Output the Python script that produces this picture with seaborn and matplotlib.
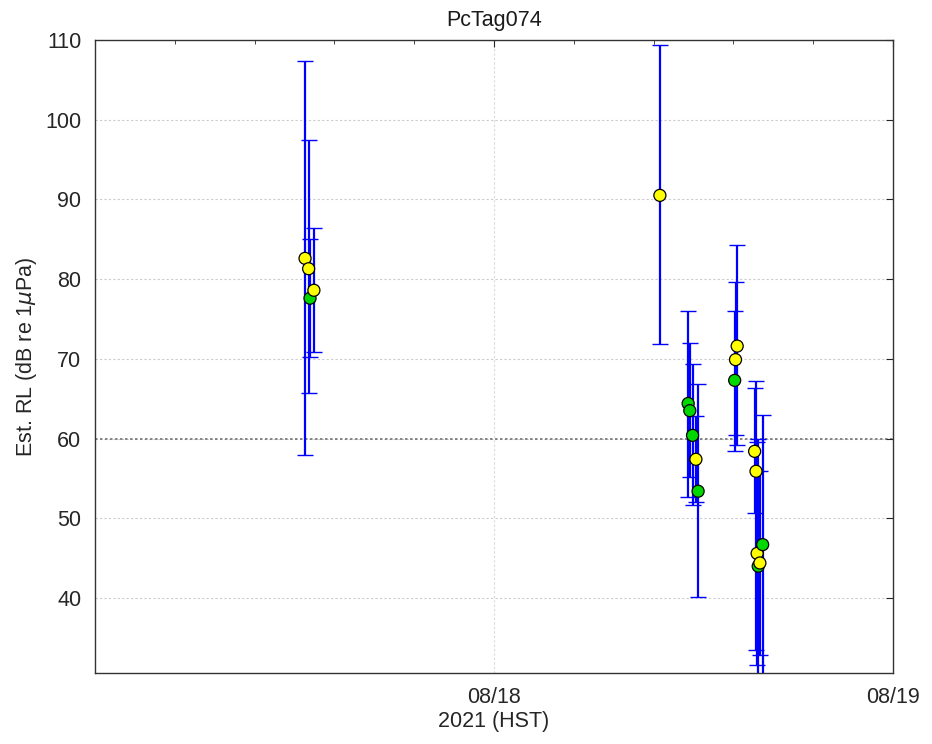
import numpy as np
import pandas as pd
import matplotlib
matplotlib.use('Agg')
import matplotlib.pyplot as plt
import matplotlib.dates as mdates
from matplotlib.ticker import MultipleLocator
import seaborn as sns

# detection times (HST), estimated RL and its error range
times = ['2021-08-17 12:38', '2021-08-17 12:51', '2021-08-17 12:56', '2021-08-17 13:10',
         '2021-08-18 09:59',
         '2021-08-18 11:41', '2021-08-18 11:47', '2021-08-18 11:57', '2021-08-18 12:09', '2021-08-18 12:17',
         '2021-08-18 14:29', '2021-08-18 14:32', '2021-08-18 14:38',
         '2021-08-18 15:41', '2021-08-18 15:46', '2021-08-18 15:50', '2021-08-18 15:54',
         '2021-08-18 16:00', '2021-08-18 16:10']
rl = [82.6, 81.3, 77.6, 78.6,
      90.5,
      64.4, 63.5, 60.4, 57.4, 53.4,
      67.3, 69.9, 71.6,
      58.4, 55.9, 45.6, 44.0, 44.4, 46.7]
rl_lo = [57.9, 65.7, 70.2, 70.8,
         71.8,
         52.7, 55.2, 51.7, 52.1, 40.1,
         58.5, 60.4, 59.2,
         50.7, 33.5, 31.6, 27.0, 32.9, 28.0]
rl_hi = [107.4, 97.4, 85.0, 86.4,
         109.4,
         76.0, 72.0, 69.3, 62.8, 66.8,
         76.0, 79.6, 84.3,
         66.3, 67.2, 59.6, 60.0, 55.9, 62.9]
kind = ['yellow', 'yellow', 'green', 'yellow',
        'yellow',
        'green', 'green', 'green', 'yellow', 'green',
        'green', 'yellow', 'yellow',
        'yellow', 'yellow', 'yellow', 'green', 'yellow', 'green']

df = pd.DataFrame({'time': pd.to_datetime(times), 'rl': rl,
                   'lo': rl_lo, 'hi': rl_hi, 'kind': kind})

sns.set_style('white')
plt.rcParams['font.family'] = ['Liberation Sans', 'DejaVu Sans']
plt.rcParams['mathtext.fontset'] = 'dejavusans'

fig = plt.figure(figsize=(9.32, 7.44), dpi=100)
ax = fig.add_axes([0.102, 0.0954, 0.856, 0.851])

# grid first so it stays behind
for yv in range(40, 110, 10):
    ax.axhline(yv, color='0.8', ls=(0, (2, 2)), lw=0.8, zorder=0)
ax.axhline(60, color='0.45', ls=(0, (1.5, 1.5)), lw=1.2, zorder=0)
ax.axvline(pd.Timestamp('2021-08-18'), color='0.85', ls=(0, (2, 2)), lw=0.8, zorder=0)

ax.errorbar(df['time'], df['rl'],
            yerr=[df['rl'] - df['lo'], df['hi'] - df['rl']],
            fmt='none', ecolor='#0000ff', elinewidth=1.6, capsize=6, capthick=1.0, zorder=2)

sns.scatterplot(data=df, x='time', y='rl', hue='kind',
                palette={'yellow': '#ffff00', 'green': '#00d800'},
                s=75, edgecolor='black', linewidth=0.9, legend=False, ax=ax, zorder=3)

ax.set_xlim(pd.Timestamp('2021-08-17 00:00'), pd.Timestamp('2021-08-19 00:00'))
ax.set_ylim(30.6, 110)
ax.set_yticks(range(40, 111, 10))
ax.set_xticks([pd.Timestamp('2021-08-18'), pd.Timestamp('2021-08-19')])
ax.xaxis.set_major_formatter(mdates.DateFormatter('%m/%d'))
ax.xaxis.set_minor_locator(MultipleLocator(0.2))

ax.tick_params(axis='both', which='both', direction='in', top=True, right=True,
               labelsize=15.5, colors='0.15', length=5)
ax.tick_params(axis='y', pad=10)
ax.tick_params(axis='x', pad=10)
ax.tick_params(which='minor', length=3)
for s in ax.spines.values():
    s.set_color('0.2')
    s.set_linewidth(1.0)

ax.set_xlabel('2021 (HST)', fontsize=15.5, color='0.15', labelpad=2)
ax.set_ylabel(r'Est. RL (dB re 1$\mu$Pa)', fontsize=15.5, color='0.15', labelpad=4)
ax.set_title('PcTag074', fontsize=15.5, color='0.1', pad=10)

fig.savefig('out.png', dpi=100)
